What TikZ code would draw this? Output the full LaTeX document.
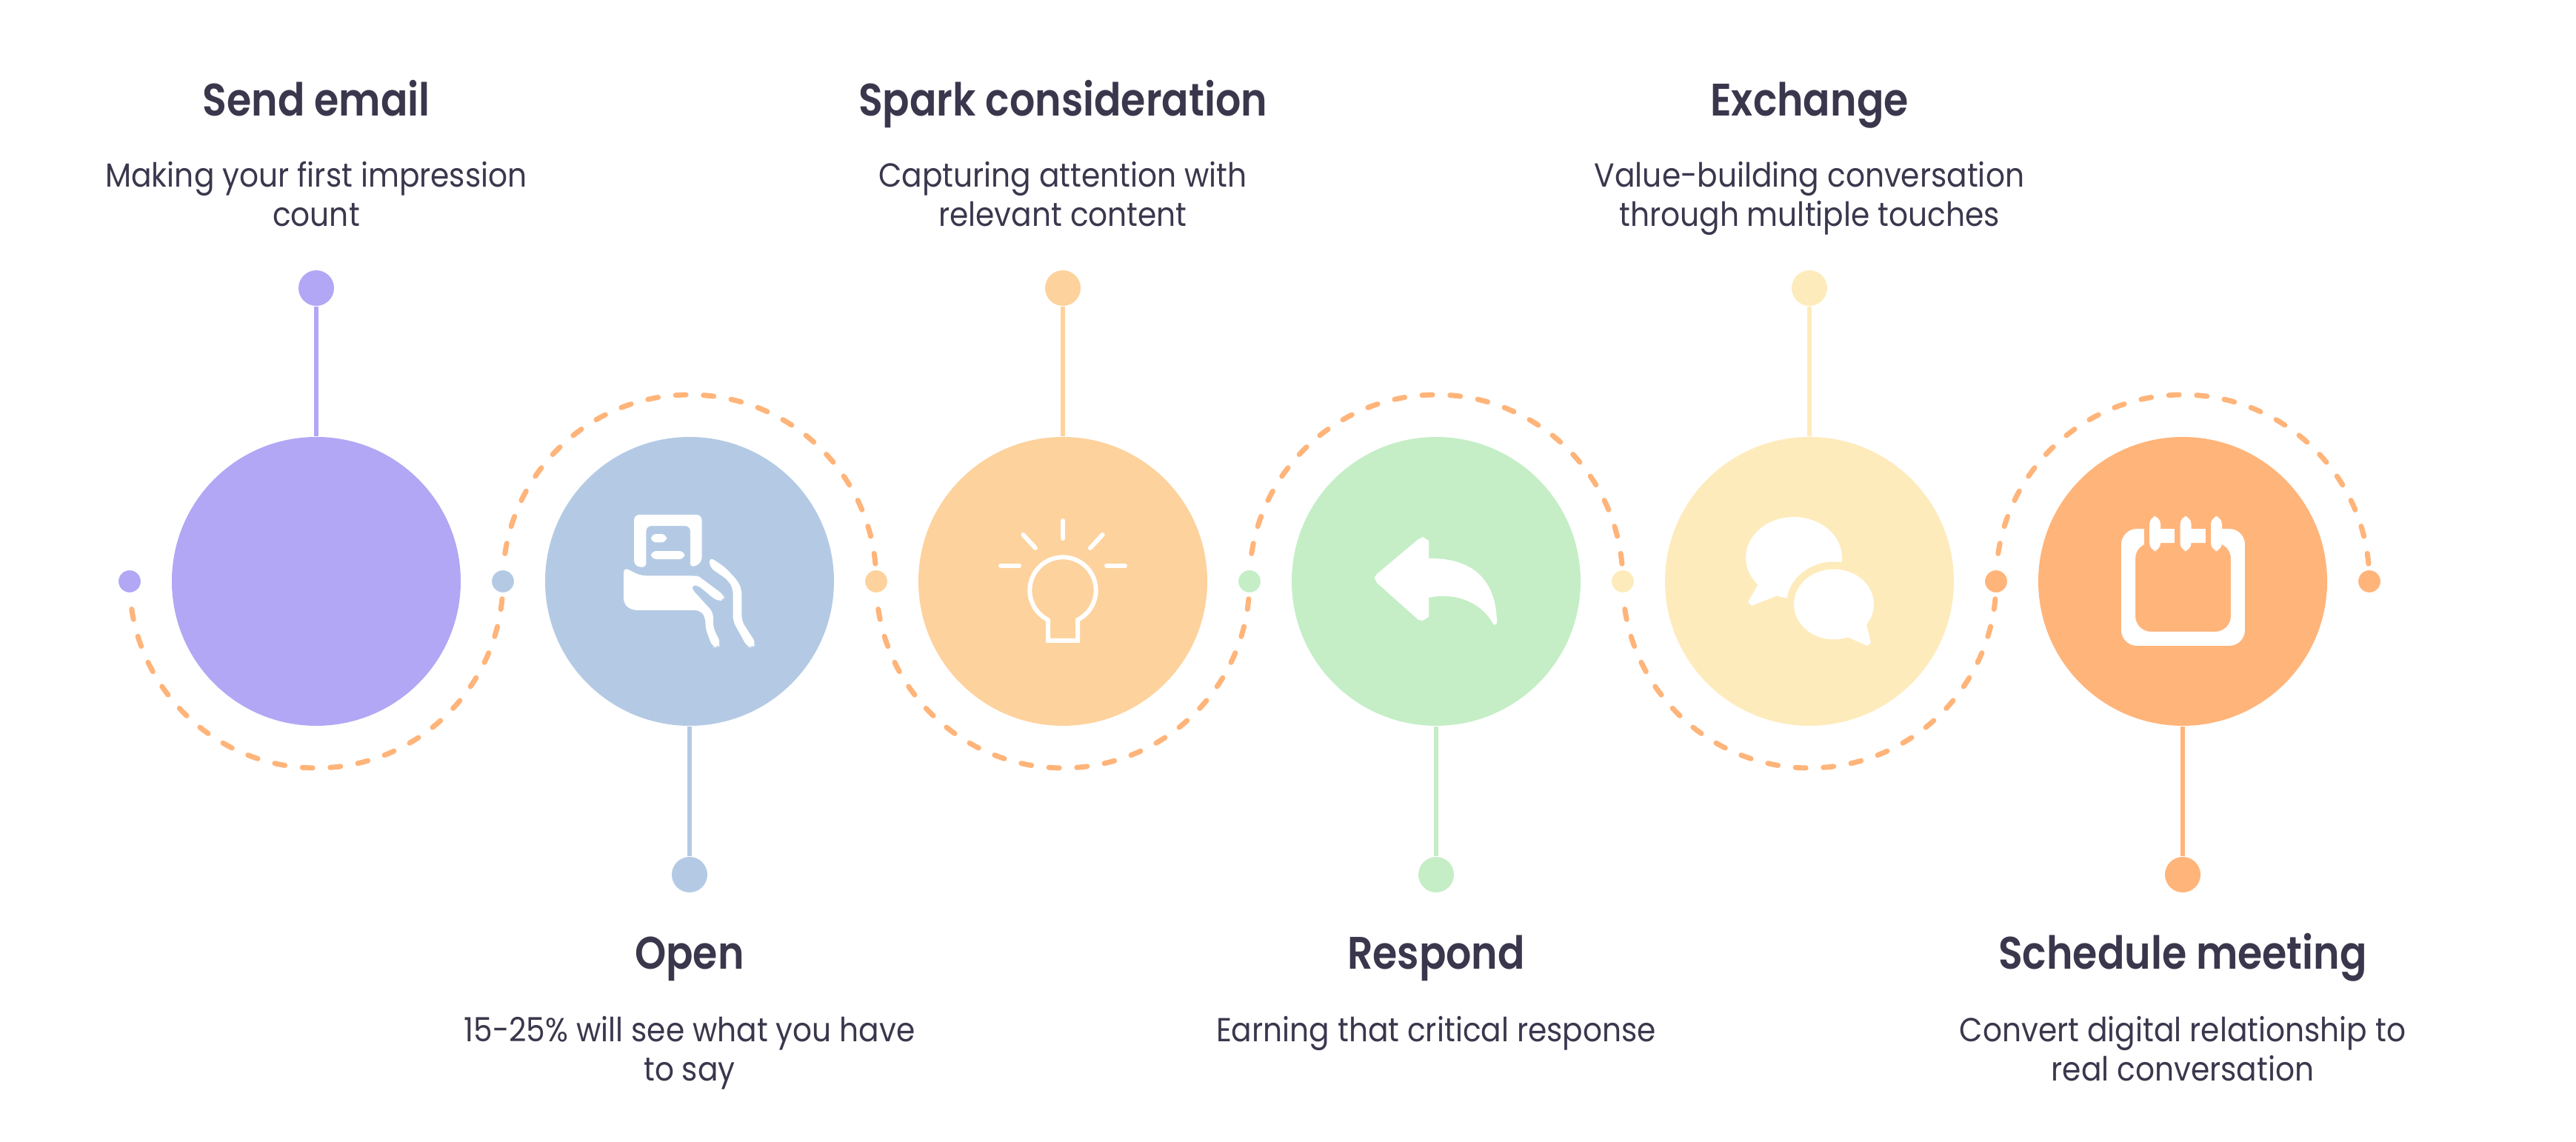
\documentclass[tikz,border=0pt]{standalone}
\usepackage{fontspec}
\setmainfont{Poppins}
\newfontfamily\headfont[FakeStretch=0.875]{Poppins SemiBold}
\newfontfamily\subfont[FakeStretch=0.905]{Poppins}
\usetikzlibrary{positioning}
\definecolor{sendcol}{HTML}{B1A7F5}
\definecolor{opencol}{HTML}{B4CAE4}
\definecolor{sparkcol}{HTML}{FDD29D}
\definecolor{respondcol}{HTML}{C5EEC6}
\definecolor{exchangecol}{HTML}{FEEBBC}
\definecolor{meetcol}{HTML}{FFB47A}
\definecolor{inkcol}{HTML}{3A374D}
\tikzset{
	bigdisc/.style={circle, fill=#1, minimum size=3.9cm, inner sep=0pt},
	smalldot/.style={circle, fill=#1, draw=white, line width=0.04cm, minimum size=0.34cm, inner sep=0pt},
	capdot/.style={circle, fill=#1, minimum size=0.48cm, inner sep=0pt},
	stemline/.style={draw=#1, line width=0.06cm},
	trackline/.style={draw=meetcol, line width=0.07cm, line cap=round, dash pattern=on 0.14cm off 0.237cm},
	headtext/.style={inkcol, font=\fontsize{17.5}{20}\headfont, anchor=base},
	subtext/.style={inkcol, font=\fontsize{12.8}{15}\subfont, align=center, anchor=north},
	icon/.style={x=0.01cm, y=-0.01cm, white}
}
\begin{document}
\begin{tikzpicture}
		\useasboundingbox (0,0) rectangle (34.78,15.41);
		% dashed track
		\coordinate (mark1) at (1.75,7.56);
		\coordinate (mark2) at (6.79,7.56);
		\coordinate (mark3) at (11.83,7.56);
		\coordinate (mark4) at (16.87,7.56);
		\coordinate (mark5) at (21.91,7.56);
		\coordinate (mark6) at (26.95,7.56);
		\coordinate (mark7) at (31.99,7.56);
		\draw[trackline] (mark1) arc[start angle=180, end angle=360, radius=2.52];
		\draw[trackline] (mark2) arc[start angle=180, end angle=0, radius=2.52];
		\draw[trackline] (mark3) arc[start angle=180, end angle=360, radius=2.52];
		\draw[trackline] (mark4) arc[start angle=180, end angle=0, radius=2.52];
		\draw[trackline] (mark5) arc[start angle=180, end angle=360, radius=2.52];
		\draw[trackline] (mark6) arc[start angle=180, end angle=0, radius=2.52];
		% dots on the centre line
		\node[smalldot=sendcol] (dot1) at (mark1) {};
		\node[smalldot=opencol] (dot2) at (mark2) {};
		\node[smalldot=sparkcol] (dot3) at (mark3) {};
		\node[smalldot=respondcol] (dot4) at (mark4) {};
		\node[smalldot=exchangecol] (dot5) at (mark5) {};
		\node[smalldot=meetcol] (dot6) at (mark6) {};
		\node[smalldot=meetcol] (dot7) at (mark7) {};
		% Send email
		\node[bigdisc=sendcol] (send) at (4.27,7.56) {};
		\node[capdot=sendcol] (sendcap) at (4.27,11.52) {};
		\draw[stemline=sendcol] (send) -- (sendcap);
		\node[headtext] (sendhead) at (4.27,13.84) {Send email};
		\node[subtext] (sendsub) at (4.27,13.35) {Making your first impression\\count};
		% Open
		\node[bigdisc=opencol] (open) at (9.31,7.56) {};
		\node[capdot=opencol] (opencap) at (9.31,3.60) {};
		\draw[stemline=opencol] (open) -- (opencap);
		\node[headtext] (openhead) at (9.31,2.33) {Open};
		\node[subtext] (opensub) at (9.31,1.81) {15-25\% will see what you have\\to say};
		\begin{scope}[icon, shift={(open.center)}]
			\fill[rounded corners=2] (-75,-21) -- (-75,-90) -- (16.5,-90) -- (16.5,-25) -- (1,-18) -- (1,-75) -- (-58.6,-75) -- (-58.6,-18) -- cycle;
			\fill[rounded corners=2] (-52,-64) rectangle (-31,-52.6);
			\fill[rounded corners=2] (-52,-41) rectangle (-6.7,-30);
			\fill[rounded corners=2] (-89,-19) -- (-66,-7.7) -- (9.5,-7.7) -- (14,-5.7) -- (47,19) -- (47,25) -- (37.5,27) -- (9.5,4) -- (2.5,5.7) -- (2.5,9.6) -- (32,42) -- (32,63) -- (42.5,84) -- (37.5,90) -- (30.5,88) -- (21.4,63) -- (21.4,48) -- (14,39) -- (-78,39) -- (-89,30.6) -- cycle;
			\fill[rounded corners=2] (27,-33) -- (48,-19) -- (65.6,0) -- (70.5,11.5) -- (70.5,53.6) -- (90,84) -- (84.6,90) -- (77.5,88) -- (58.6,53.6) -- (58.6,9.6) -- (51.6,-2) -- (27,-19) -- cycle;
		\end{scope}
		% Spark consideration
		\node[bigdisc=sparkcol] (spark) at (14.35,7.56) {};
		\node[capdot=sparkcol] (sparkcap) at (14.35,11.52) {};
		\draw[stemline=sparkcol] (spark) -- (sparkcap);
		\node[headtext] (sparkhead) at (14.35,13.84) {Spark consideration};
		\node[subtext] (sparksub) at (14.35,13.35) {Capturing attention with\\relevant content};
		\begin{scope}[icon, shift={(spark.center)}, draw=white, line width=0.06cm, line cap=round]
			\draw (-20,52) -- (-20,80) -- (20,80) -- (20,52) arc[start angle=63.4, end angle=-243.4, radius=44.7];
			\draw (0,-82) -- (0,-58);
			\draw (-53.6,-63) -- (-37,-45);
			\draw (53.6,-63) -- (37,-45);
			\draw (-84,-21) -- (-59,-21);
			\draw (84,-21) -- (59,-21);
		\end{scope}
		% Respond
		\node[bigdisc=respondcol] (respond) at (19.39,7.56) {};
		\node[capdot=respondcol] (respondcap) at (19.39,3.60) {};
		\draw[stemline=respondcol] (respond) -- (respondcap);
		\node[headtext] (respondhead) at (19.39,2.33) {Respond};
		\node[subtext] (respondsub) at (19.39,1.81) {Earning that critical response};
		\begin{scope}[icon, shift={(respond.center)}]
			\fill (-24,-57) -- (-18,-60) -- (-10,-55) -- (-10,-31) .. controls (60,-32) and (82,9) .. (82,57) -- (78,59) .. controls (60,25) and (22,15) .. (-10,22) -- (-10,48) -- (-18,53) -- (-24,52) -- (-80,2) -- (-83.5,-5) -- (-80,-10) -- cycle;
		\end{scope}
		% Exchange
		\node[bigdisc=exchangecol] (exchange) at (24.43,7.56) {};
		\node[capdot=exchangecol] (exchangecap) at (24.43,11.52) {};
		\draw[stemline=exchangecol] (exchange) -- (exchangecap);
		\node[headtext] (exchangehead) at (24.43,13.84) {Exchange};
		\node[subtext] (exchangesub) at (24.43,13.35) {Value-building conversation\\through multiple touches};
		\begin{scope}[icon, shift={(exchange.center)}]
			\fill (-21,-32) ellipse [x radius=65, y radius=55];
			\fill (-70,5) -- (-83,28) -- (-78,33) -- (-43,19) -- (-20,20) -- cycle;
			\fill[exchangecol] (33,31) ellipse [x radius=64, y radius=57.5];
			\fill (33,31) ellipse [x radius=54, y radius=47.5];
			\fill (77,58) -- (83,83) -- (78,87) -- (51,75) -- (40,60) -- cycle;
		\end{scope}
		% Schedule meeting
		\node[bigdisc=meetcol] (meet) at (29.47,7.56) {};
		\node[capdot=meetcol] (meetcap) at (29.47,3.60) {};
		\draw[stemline=meetcol] (meet) -- (meetcap);
		\node[headtext] (meethead) at (29.47,2.33) {Schedule meeting};
		\node[subtext] (meetsub) at (29.47,1.81) {Convert digital relationship to\\real conversation};
		\begin{scope}[icon, shift={(meet.center)}]
			\fill[even odd rule, rounded corners=6] (-83,-71) rectangle (84,87) (-64,-52) rectangle (65,68);
			\fill[meetcol] (-52,-72) rectangle (-45,-50);
			\fill[meetcol] (-11.5,-72) rectangle (-3.5,-50);
			\fill[meetcol] (31,-72) rectangle (38,-50);
			\fill[rounded corners=3] (-45,-88) rectangle (-30,-41);
			\fill[rounded corners=3] (-3.5,-88) rectangle (11.5,-41);
			\fill[rounded corners=3] (38,-88) rectangle (53,-41);
		\end{scope}
	\end{tikzpicture}
\end{document}
